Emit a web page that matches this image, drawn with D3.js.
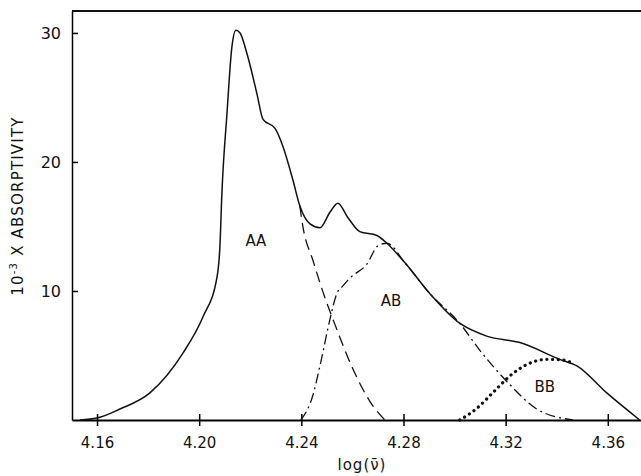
<!DOCTYPE html>
<html>
<head>
<meta charset="utf-8">
<script src="https://cdn.jsdelivr.net/npm/d3@7"></script>
<style>
  body { margin: 0; background: #fff; }
  svg text { font-family: "DejaVu Sans", "Liberation Sans", sans-serif; fill: #111; }
</style>
</head>
<body>
<div id="chart"></div>
<script>
// Tick values
const xTicks = [4.16, 4.20, 4.24, 4.28, 4.32, 4.36];
const yTicks = [10, 20, 30];

// Measured absorptivity (total), [log(nu), 10^-3 x absorptivity]
const totalCurve = [
  [4.1533, 0], [4.16, 0.15], [4.169, 0.85], [4.1807, 2.1], [4.1937, 5.2],
  [4.2015, 8.0], [4.207, 11.1], [4.2081, 13.4], [4.2089, 17.6], [4.2109, 23.8],
  [4.2128, 28.9], [4.2144, 30.2], [4.216, 30.0], [4.2187, 28.4], [4.2226, 25.3],
  [4.225, 23.3], [4.2297, 22.6], [4.2328, 21.2], [4.2367, 18.6], [4.2394, 16.6],
  [4.2434, 15.2], [4.2473, 14.9], [4.2512, 16.1], [4.2543, 16.8],
  [4.2582, 15.7], [4.2629, 14.6], [4.2696, 14.3], [4.2735, 13.7], [4.2805, 12.2],
  [4.2903, 9.8], [4.302, 7.5], [4.3126, 6.5], [4.3256, 6.0], [4.3412, 4.7],
  [4.3479, 4.2], [4.3596, 2.1], [4.3725, 0]
];

// Resolved components (drawn where they leave the total curve)
const aaCurve = [
  [4.2394, 16.6], [4.2406, 15.0], [4.2445, 12.4], [4.2492, 9.5], [4.2524, 7.8],
  [4.2602, 3.95], [4.268, 1.1], [4.2727, 0]
];
const abCurve = [
  [4.2398, 0], [4.2445, 1.9], [4.2473, 4.2], [4.2512, 7.8], [4.2539, 9.8],
  [4.2563, 10.4], [4.259, 11.0], [4.2657, 12.1], [4.27, 13.5], [4.2735, 13.7],
  [4.2805, 12.2], [4.2903, 9.8], [4.302, 7.5], [4.3099, 5.4], [4.3209, 2.9],
  [4.3322, 0.85], [4.3463, 0]
];
const bbCurve = [
  [4.302, 0], [4.3087, 0.9], [4.3149, 2.1], [4.3216, 3.4], [4.3283, 4.3],
  [4.3361, 4.7], [4.3424, 4.65], [4.3451, 4.5]
];

const labels = [
  {text: "AA", x: 4.2222, y: 13.8},
  {text: "AB", x: 4.2751, y: 9.15},
  {text: "BB", x: 4.3353, y: 2.5}
];

const width = 641, height = 476;
const margin = {top: 11, right: 0, bottom: 56, left: 72};

const svg = d3.select("#chart").append("svg")
  .attr("width", width).attr("height", height);

const x = d3.scaleLinear().domain([4.1502, 4.373]).range([margin.left, width - margin.right]);
const y = d3.scaleLinear().domain([0, 31.7]).range([height - margin.bottom, margin.top]);

// Top frame line
svg.append("line")
  .attr("x1", margin.left).attr("x2", width)
  .attr("y1", margin.top).attr("y2", margin.top)
  .attr("stroke", "#111").attr("stroke-width", 2);

// Axes
const xAxis = d3.axisBottom(x).tickValues(xTicks).tickSizeInner(6).tickSizeOuter(0)
  .tickFormat(d3.format(".2f"));
svg.append("g")
  .attr("transform", `translate(0,${y(0)})`)
  .call(xAxis)
  .call(g => g.select(".domain").attr("stroke-width", 2))
  .call(g => g.selectAll(".tick line").attr("y1", -6).attr("stroke-width", 1.5))
  .call(g => g.selectAll(".tick text").attr("dy", "1.25em").attr("font-size", 15));

const yAxis = d3.axisLeft(y).tickValues(yTicks).tickSizeInner(5).tickSizeOuter(0);
svg.append("g")
  .attr("transform", `translate(${margin.left},0)`)
  .call(yAxis)
  .call(g => g.select(".domain").attr("stroke-width", 1.5))
  .call(g => g.selectAll(".tick line").attr("x2", 6).attr("stroke-width", 1.5))
  .call(g => g.selectAll(".tick text").attr("x", -11).attr("font-size", 16));

// Axis titles
svg.append("text")
  .attr("transform", `translate(23,${206}) rotate(-90)`)
  .attr("text-anchor", "middle")
  .attr("font-size", 15)
  .attr("letter-spacing", 1.2)
  .html('10<tspan dy="-6" font-size="10">-3</tspan><tspan dy="6"> X ABSORPTIVITY</tspan>');

svg.append("text")
  .attr("x", 362).attr("y", 470)
  .attr("text-anchor", "middle")
  .attr("font-size", 15)
  .attr("letter-spacing", 1)
  .text("log(\u03BD\u0304)");

const line = d3.line()
  .x(d => x(d[0]))
  .y(d => y(d[1]))
  .curve(d3.curveMonotoneX);

svg.append("path").datum(aaCurve)
  .attr("d", line).attr("fill", "none")
  .attr("stroke", "#111").attr("stroke-width", 1.3)
  .attr("stroke-dasharray", "11 6");

svg.append("path").datum(abCurve)
  .attr("d", line).attr("fill", "none")
  .attr("stroke", "#111").attr("stroke-width", 1.3)
  .attr("stroke-dasharray", "10 4 2 4");

svg.append("path").datum(bbCurve)
  .attr("d", line).attr("fill", "none")
  .attr("stroke", "#111").attr("stroke-width", 3.2)
  .attr("stroke-linecap", "round")
  .attr("stroke-dasharray", "0.1 5.6");

svg.append("path").datum(totalCurve)
  .attr("d", line).attr("fill", "none")
  .attr("stroke", "#111").attr("stroke-width", 1.5);

svg.selectAll(".band-label")
  .data(labels)
  .enter()
  .append("text")
  .attr("class", "band-label")
  .attr("x", d => x(d.x))
  .attr("y", d => y(d.y))
  .attr("text-anchor", "middle")
  .attr("dominant-baseline", "middle")
  .attr("font-size", 15)
  .text(d => d.text);
</script>
</body>
</html>
